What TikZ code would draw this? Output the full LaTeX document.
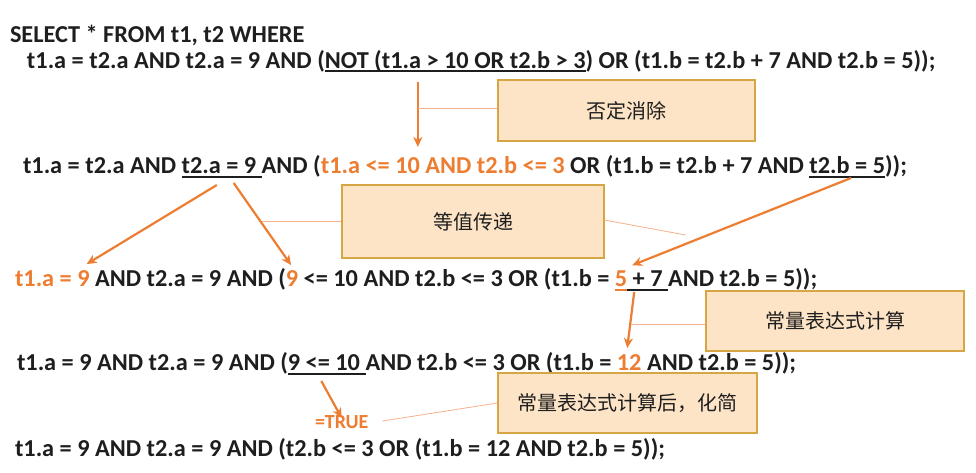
\documentclass[tikz,border=0pt]{standalone}
\usepackage{fontspec}
\setmainfont{Carlito}
\newfontfamily\cjk{Noto Sans CJK SC}
\usetikzlibrary{arrows.meta,calc}
\definecolor{txt}{RGB}{30,30,30}
\definecolor{org}{RGB}{237,125,49}
\definecolor{boxfill}{RGB}{253,228,198}
\definecolor{boxline}{RGB}{214,165,68}
\definecolor{callline}{RGB}{244,177,140}
\tikzset{
  seg/.style={inner sep=0pt, outer sep=0pt, anchor=base west, text=txt, font=\fontsize{24.3}{29}\selectfont\bfseries},
  oseg/.style={seg, text=org},
  uline/.style={draw=txt, line width=2pt},
  ouline/.style={draw=org, line width=2pt},
  arr/.style={draw=org, line width=2.2pt, -{Stealth[length=10pt,width=9pt,inset=3pt]}},
  note/.style={draw=boxline, line width=1.1pt, fill=boxfill, inner sep=0pt, text=txt, font=\cjk\fontsize{20}{24}\selectfont},
  callout/.style={draw=callline, line width=0.8pt},
}
\begin{document}
\begin{tikzpicture}[x=1pt,y=-1pt]
\useasboundingbox[fill=white] (0,0) rectangle (976,472);

% line 1
\node[seg] (l1) at (10,42) {SELECT * FROM t1, t2 WHERE};
% line 2
\node[seg] (l2a) at (27,68) {t1.a = t2.a AND t2.a = 9 AND (};
\node[seg] (l2b) at (l2a.base east) {NOT (t1.a > 10 OR t2.b > 3};
\node[seg] (l2c) at (l2b.base east) {) OR (t1.b = t2.b + 7 AND t2.b = 5));};
\draw[uline] ($(l2b.base west)+(0,3)$) -- ($(l2b.base east)+(0,3)$);
% line 3
\node[seg] (l3a) at (23,173) {t1.a = t2.a AND\ \null};
\node[seg] (l3b) at (l3a.base east) {t2.a = 9\ \null};
\node[seg] (l3c) at (l3b.base east) {AND (};
\node[oseg] (l3d) at (l3c.base east) {t1.a <= 10 AND t2.b <= 3};
\node[seg] (l3e) at (l3d.base east) {\ OR (t1.b = t2.b + 7 AND\ \null};
\node[seg] (l3f) at (l3e.base east) {t2.b = 5};
\node[seg] (l3g) at (l3f.base east) {));};
\draw[uline] ($(l3b.base west)+(0,4)$) -- ($(l3b.base east)+(0,4)$);
\draw[uline] ($(l3f.base west)+(0,4)$) -- ($(l3f.base east)+(0,4)$);
% line 4
\node[oseg] (l4a) at (15,286) {t1.a = 9};
\node[seg] (l4b) at (l4a.base east) {\ AND t2.a = 9 AND (};
\node[oseg] (l4c) at (l4b.base east) {9};
\node[seg] (l4d) at (l4c.base east) {\ <= 10 AND t2.b <= 3 OR (t1.b =\ \null};
\node[oseg] (l4e) at (l4d.base east) {5};
\node[seg] (l4f) at (l4e.base east) {\ + 7\ \null};
\node[seg] (l4g) at (l4f.base east) {AND t2.b = 5));};
\draw[ouline] ($(l4e.base west)+(0,4)$) -- ($(l4e.base east)+(0,4)$);
\draw[uline] ($(l4f.base west)+(0,4)$) -- ($(l4f.base east)+(0,4)$);
% line 5
\node[seg] (l5a) at (17,370) {t1.a = 9 AND t2.a = 9 AND (};
\node[seg] (l5b) at (l5a.base east) {9 <= 10\ \null};
\node[seg] (l5c) at (l5b.base east) {AND t2.b <= 3 OR (t1.b =\ \null};
\node[oseg] (l5d) at (l5c.base east) {12};
\node[seg] (l5e) at (l5d.base east) {\ AND t2.b = 5));};
\draw[uline] ($(l5b.base west)+(0,4)$) -- ($(l5b.base east)+(0,4)$);
% =TRUE
\node[oseg, font=\fontsize{20}{24}\selectfont\bfseries] (true) at (315,428) {=TRUE};
% line 6
\node[seg] (l6) at (15,456) {t1.a = 9 AND t2.a = 9 AND (t2.b <= 3 OR (t1.b = 12 AND t2.b = 5));};

% notes
\node[note, minimum width=257pt, minimum height=61pt] (b1) at (626.5,110.5) {否定消除};
\node[note, minimum width=262pt, minimum height=73pt] (b2) at (473,221.5) {等值传递};
\node[note, minimum width=258pt, minimum height=60pt] (b3) at (835,321) {常量表达式计算};
\node[note, minimum width=259pt, minimum height=60pt] (b4) at (627.5,403) {常量表达式计算后，化简};

% arrows
\coordinate (a1s) at ($(l2b.base west)+(93,14)$);
\coordinate (a1e) at ($(a1s |- l3d.north)+(0,-9)$);
\draw[arr] (a1s) -- (a1e);
\coordinate (a2s) at ($(l3b.base west)!0.44!(l3b.base east)+(0,12)$);
\draw[arr] (a2s) -- ($(l4a.north east)+(-3,-6)$);
\coordinate (a3s) at ($(l3b.base west)!0.65!(l3b.base east)+(0,10)$);
\draw[arr] (a3s) -- ($(l4c.north)+(-1,-5)$);
\coordinate (a4s) at ($(l3f.base west)!0.55!(l3f.base east)+(0,5)$);
\draw[arr] (a4s) -- ($(l4e.north east)+(5,-5)$);
\coordinate (a5s) at ($(l4f.base west)+(7,6)$);
\draw[arr] (a5s) -- ($(l5d.north)+(-2,-6)$);
\coordinate (a6s) at ($(l5b.base west)!0.43!(l5b.base east)+(0,11)$);
\draw[arr] (a6s) -- ($(true.north)+(0,3)$);

% callout lines
\coordinate (c1) at ([yshift=2.5pt]b1.west);
\draw[callout] (c1) -- (a1s |- c1);
\draw[callout] (b2.west) -- ++(-79,0);
\draw[callout] ([yshift=1.5pt]b2.east) -- ++(81,15);
\draw[callout] ([yshift=-3pt]b3.west) -- ++(-74,0);
\draw[callout] (b4.west) -- ++(-115,18);
\end{tikzpicture}
\end{document}
